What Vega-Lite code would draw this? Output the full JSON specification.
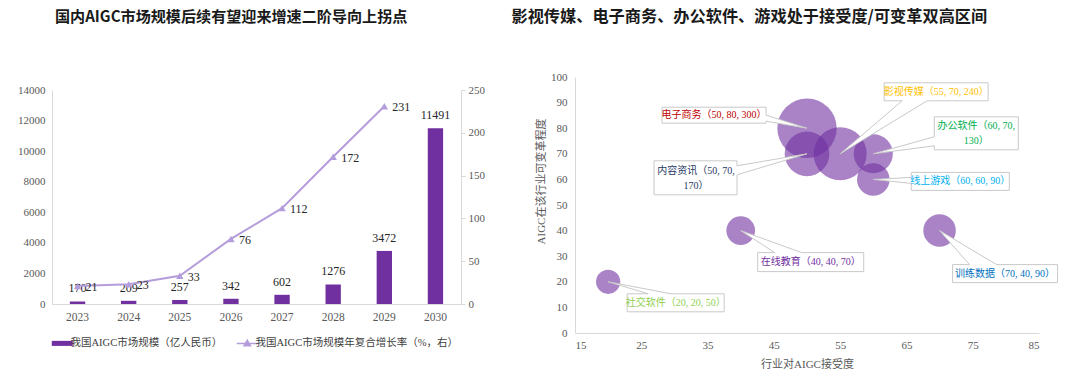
{
  "$schema": "https://vega.github.io/schema/vega-lite/v6.json",
  "padding": {"left": 17, "top": 8, "right": 5, "bottom": 5},
  "background": "white",
  "spacing": 26,
  "align": "none",
  "resolve": {"scale": {"color": "independent", "size": "independent", "shape": "independent"}, "legend": {"color": "independent"}},
  "config": {
    "view": {"stroke": null},
    "font": "Liberation Serif, Noto Sans CJK SC",
    "axis": {
      "labelFont": "Liberation Serif, Noto Sans CJK SC",
      "labelFontSize": 11,
      "labelColor": "#595959",
      "labelOverlap": false,
      "domainColor": "#d9d9d9",
      "grid": false,
      "ticks": false,
      "titleFont": "Liberation Serif, Noto Sans CJK SC",
      "titleFontSize": 11,
      "titleFontWeight": "normal",
      "titleColor": "#595959"
    },
    "title": {"font": "Noto Sans CJK SC", "fontSize": 16, "fontWeight": "bold", "color": "#1a1a1a", "anchor": "start"}
  },
  "hconcat": [
    {
      "width": 409,
      "height": 227,
      "title": {"text": "国内AIGC市场规模后续有望迎来增速二阶导向上拐点", "offset": 52, "fontSize": 15.1, "frame": "group", "dx": 3},
      "data": {"values": [
        {"year": "2023", "size": 170, "cagr": 21},
        {"year": "2024", "size": 209, "cagr": 23},
        {"year": "2025", "size": 257, "cagr": 33},
        {"year": "2026", "size": 342, "cagr": 76},
        {"year": "2027", "size": 602, "cagr": 112},
        {"year": "2028", "size": 1276, "cagr": 172},
        {"year": "2029", "size": 3472, "cagr": 231},
        {"year": "2030", "size": 11491, "cagr": null}
      ]},
      "encoding": {
        "x": {"field": "year", "type": "ordinal", "scale": {"paddingInner": 0.7, "paddingOuter": 0.35},
              "axis": {"title": null, "labelAngle": 0, "labelPadding": 7, "labelFontSize": 11.5}}
      },
      "layer": [
        {
          "encoding": {
            "y": {"field": "size", "type": "quantitative", "scale": {"domain": [0, 14000], "range": [227, 13], "nice": false},
                  "axis": {"title": null, "format": "d", "labelOverlap": false, "values": [0, 2000, 4000, 6000, 8000, 10000, 12000, 14000], "labelPadding": 7}}
          },
          "layer": [
            {
              "mark": {"type": "bar"},
              "encoding": {
                "color": {
                  "datum": "我国AIGC市场规模（亿人民币）",
                  "type": "nominal",
                  "scale": {"domain": ["我国AIGC市场规模（亿人民币）", "我国AIGC市场规模年复合增长率（%，右）"], "range": ["#7030a0", "#b39ddb"]},
                  "legend": {
                    "orient": "none",
                    "legendX": 5,
                    "legendY": 261,
                    "direction": "horizontal",
                    "title": null,
                    "labelFont": "Liberation Serif, Noto Sans CJK SC",
                    "labelFontSize": 10.5,
                    "labelColor": "#404040",
                    "symbolSize": 441,
                    "columnPadding": 10,
                    "labelOffset": 3,
                    "labelLimit": 400,
                    "encode": {
                      "symbols": {
                        "update": {
                          "shape": {"signal": "datum.value === '我国AIGC市场规模（亿人民币）' ? 'M-1,-0.24L1,-0.24L1,0.24L-1,0.24Z' : 'M-1,0L1,0M-0.3,0.22L0,-0.3L0.3,0.22Z'"},
                          "fill": {"signal": "datum.value === '我国AIGC市场规模（亿人民币）' ? '#7030a0' : '#b39ddb'"},
                          "stroke": {"signal": "datum.value === '我国AIGC市场规模（亿人民币）' ? '#7030a0' : '#b39ddb'"},
                          "strokeWidth": {"signal": "datum.value === '我国AIGC市场规模（亿人民币）' ? 0 : 1.5"},
                          "opacity": {"value": 1}
                        }
                      }
                    }
                  }
                }
              }
            },
            {
              "mark": {"type": "text", "baseline": "bottom", "dy": -6, "fontSize": 12, "color": "#262626", "font": "Liberation Serif"},
              "encoding": {
                "text": {"field": "size", "type": "quantitative"}
              }
            }
          ]
        },
        {
          "transform": [{"filter": "datum.cagr != null"}],
          "encoding": {
            "y": {"field": "cagr", "type": "quantitative", "scale": {"domain": [0, 250], "range": [227, 13], "nice": false},
                  "axis": {"orient": "right", "title": null,
                           "values": [0, 50, 100, 150, 200, 250], "ticks": true, "tickSize": 4, "tickColor": "#d9d9d9", "labelPadding": 3}}
          },
          "layer": [
            {
              "mark": {"type": "line", "strokeWidth": 2, "point": {"shape": "triangle-up", "size": 55, "filled": true}},
              "encoding": {
                "color": {"datum": "我国AIGC市场规模年复合增长率（%，右）", "type": "nominal"}
              }
            },
            {
              "mark": {"type": "text", "align": "left", "baseline": "middle", "dx": 8, "dy": 1, "fontSize": 12, "color": "#262626", "font": "Liberation Serif"},
              "encoding": {
                "text": {"field": "cagr", "type": "quantitative"}
              }
            }
          ]
        }
      ],
      "resolve": {"scale": {"y": "independent"}}
    },
    {
      "width": 464,
      "height": 256,
      "title": {"text": "影视传媒、电子商务、办公软件、游戏处于接受度/可变革双高区间", "offset": 46, "fontSize": 16.2, "frame": "bounds", "dx": -24},
      "data": {"values": [
        {"name": "电子商务", "x": 50, "y": 80, "size": 300},
        {"name": "影视传媒", "x": 55, "y": 70, "size": 240},
        {"name": "内容资讯", "x": 50, "y": 70, "size": 170},
        {"name": "办公软件", "x": 60, "y": 70, "size": 130},
        {"name": "线上游戏", "x": 60, "y": 60, "size": 90},
        {"name": "训练数据", "x": 70, "y": 40, "size": 90},
        {"name": "在线教育", "x": 40, "y": 40, "size": 70},
        {"name": "社交软件", "x": 20, "y": 20, "size": 50}
      ]},
      "transform": [
        {"calculate": "datum.name + '（' + datum.x + ', ' + datum.y + ', ' + datum.size + '）'", "as": "label"},
        {"calculate": "[datum.name + '（' + datum.x + ', ' + datum.y + ',', datum.size + '）']", "as": "label2"}
      ],
      "encoding": {
        "x": {"field": "x", "type": "quantitative", "scale": {"domain": [15, 85], "nice": false, "zero": false},
              "axis": {"title": "行业对AIGC接受度", "values": [15, 25, 35, 45, 55, 65, 75, 85], "labelPadding": 6, "titlePadding": 8}},
        "y": {"field": "y", "type": "quantitative", "scale": {"domain": [0, 100], "nice": false},
              "axis": {"title": "AIGC在该行业可变革程度", "values": [0, 10, 20, 30, 40, 50, 60, 70, 80, 90, 100], "labelPadding": 8, "titlePadding": 4, "titleY": 104}}
      },
      "layer": [
        {
          "mark": {"type": "circle", "color": "#7030a0", "opacity": 0.6},
          "encoding": {"size": {"field": "size", "type": "quantitative", "scale": {"domain": [0, 300], "range": [0, 3525], "zero": true}, "legend": null}}
        },
        {
          "mark": {"type": "point", "filled": true, "fill": "white", "stroke": "#c9c9c9", "strokeWidth": 1, "size": 4, "opacity": 1},
          "encoding": {
            "shape": {"field": "name", "type": "nominal", "legend": null,
              "scale": {
                "domain": ["电子商务", "影视传媒", "办公软件", "内容资讯", "线上游戏", "在线教育", "训练数据", "社交软件"],
                "range": [
                  "M0,0L-41,-7L-41,-5L-145,-5L-145,-21L-41,-21L-41,-13Z",
                  "M0,0L62,-53L44,-53L44,-71L148,-71L148,-53L87,-53Z",
                  "M0,0L61,-8L61,-4L145,-4L145,-37L61,-37L61,-17Z",
                  "M0,0L-70,12L-70,7L-153,7L-153,41L-70,41L-70,21Z",
                  "M0,0L38,4L38,11L136,11L136,-7L38,-7L38,-2Z",
                  "M0,0L34,22L17,22L17,41L123,41L123,22L61,22Z",
                  "M0,0L30,34L13,34L13,52L118,52L118,34L57,34Z",
                  "M0,0L40,12L19,12L19,30L116,30L116,12L63,12Z"
                ]
              }
            }
          }
        },
        {
          "transform": [{"filter": "datum.name === '电子商务'"}],
          "mark": {"type": "text", "dx": -93, "dy": -13, "fontSize": 10, "color": "#c00000"},
          "encoding": {"text": {"field": "label"}}
        },
        {
          "transform": [{"filter": "datum.name === '影视传媒'"}],
          "mark": {"type": "text", "dx": 96, "dy": -62, "fontSize": 10, "color": "#ffc000"},
          "encoding": {"text": {"field": "label"}}
        },
        {
          "transform": [{"filter": "datum.name === '办公软件'"}],
          "mark": {"type": "text", "dx": 103, "dy": -28, "fontSize": 10, "lineHeight": 15, "color": "#00b050"},
          "encoding": {"text": {"field": "label2"}}
        },
        {
          "transform": [{"filter": "datum.name === '内容资讯'"}],
          "mark": {"type": "text", "dx": -111, "dy": 17, "fontSize": 10, "lineHeight": 15, "color": "#1f3864"},
          "encoding": {"text": {"field": "label2"}}
        },
        {
          "transform": [{"filter": "datum.name === '线上游戏'"}],
          "mark": {"type": "text", "dx": 87, "dy": 2, "fontSize": 10, "color": "#00b0f0"},
          "encoding": {"text": {"field": "label"}}
        },
        {
          "transform": [{"filter": "datum.name === '在线教育'"}],
          "mark": {"type": "text", "dx": 70, "dy": 31.5, "fontSize": 10, "color": "#7030a0"},
          "encoding": {"text": {"field": "label"}}
        },
        {
          "transform": [{"filter": "datum.name === '训练数据'"}],
          "mark": {"type": "text", "dx": 65.5, "dy": 43, "fontSize": 10, "color": "#0070c0"},
          "encoding": {"text": {"field": "label"}}
        },
        {
          "transform": [{"filter": "datum.name === '社交软件'"}],
          "mark": {"type": "text", "dx": 67.5, "dy": 21, "fontSize": 10, "color": "#92d050"},
          "encoding": {"text": {"field": "label"}}
        }
      ]
    }
  ]
}
